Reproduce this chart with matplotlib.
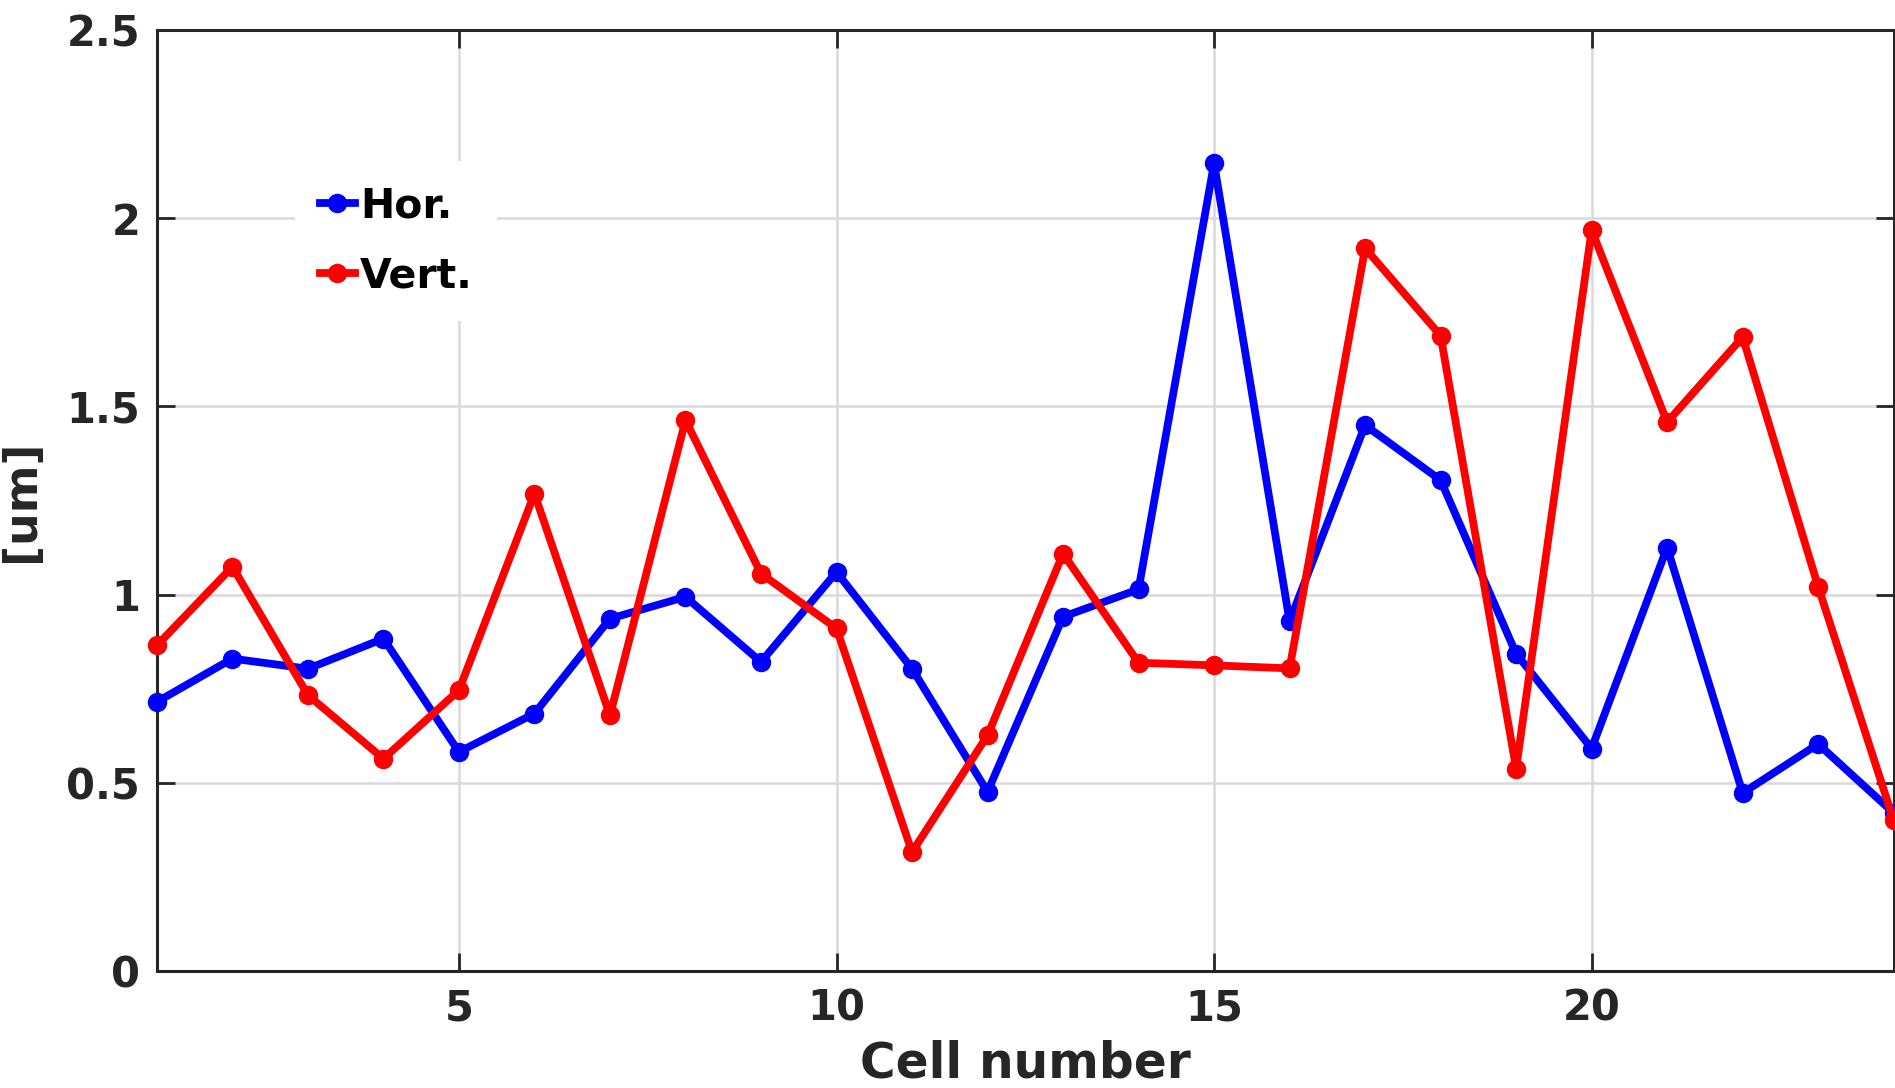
import matplotlib
matplotlib.use("Agg")
import matplotlib.pyplot as plt

cells = list(range(1, 25))
hor = [0.715, 0.830, 0.803, 0.883, 0.582, 0.684, 0.936, 0.994, 0.821, 1.060,
       0.803, 0.476, 0.941, 1.014, 2.146, 0.929, 1.450, 1.304, 0.843, 0.591,
       1.125, 0.473, 0.603, 0.420]
vert = [0.865, 1.074, 0.733, 0.564, 0.746, 1.268, 0.679, 1.463, 1.056, 0.910,
        0.316, 0.626, 1.109, 0.819, 0.812, 0.804, 1.920, 1.688, 0.538, 1.968,
        1.458, 1.684, 1.021, 0.400]
xticks = [5, 10, 15, 20]
yticks = [0, 0.5, 1, 1.5, 2, 2.5]
ytick_labels = ["0", "0.5", "1", "1.5", "2", "2.5"]

plt.rcParams["font.family"] = "DejaVu Sans"
plt.rcParams["font.weight"] = "bold"

fig = plt.figure(figsize=(18.95, 10.88), dpi=100)
ax = fig.add_axes([0.0828, 0.1075, 0.9165, 0.865])

ax.plot(cells, hor, color=(0, 0, 1), marker="o", linewidth=5.6,
        markersize=13, label="Hor.", clip_on=False, zorder=3)
ax.plot(cells, vert, color=(1, 0, 0), marker="o", linewidth=5.6,
        markersize=13, label="Vert.", clip_on=False, zorder=3)

ax.set_xlim(1, 24)
ax.set_ylim(0, 2.5)
ax.set_xticks(xticks)
ax.set_yticks(yticks)
ax.set_yticklabels(ytick_labels)

dark = (0.15, 0.15, 0.15)
ax.tick_params(direction="in", length=13, width=2, colors=dark,
               labelsize=30, pad=12, top=True, right=True)
for lab in ax.get_xticklabels() + ax.get_yticklabels():
    lab.set_fontweight("bold")
for sp in ax.spines.values():
    sp.set_color(dark)
    sp.set_linewidth(2.2)

ax.grid(True, color=(0.85, 0.85, 0.85), linewidth=1.8)
ax.set_axisbelow(True)

ax.set_xlabel("Cell number", fontsize=35, fontweight="bold", color=dark,
              labelpad=7)
ax.set_ylabel("[um]", fontsize=33, fontweight="bold", color=dark,
              labelpad=16)

# MATLAB-style legend: white patch, no border
leg = ax.legend(loc="upper left", bbox_to_anchor=(0.068, 0.882),
                fontsize=29.5, frameon=True, handlelength=0.85,
                handletextpad=0.12, labelspacing=0.75, borderpad=0.6)
leg.get_frame().set_facecolor("white")
leg.get_frame().set_edgecolor("none")
leg.get_frame().set_alpha(1)
for t in leg.get_texts():
    t.set_fontweight("bold")
    t.set_color("black")

fig.savefig("out.png", dpi=100)
